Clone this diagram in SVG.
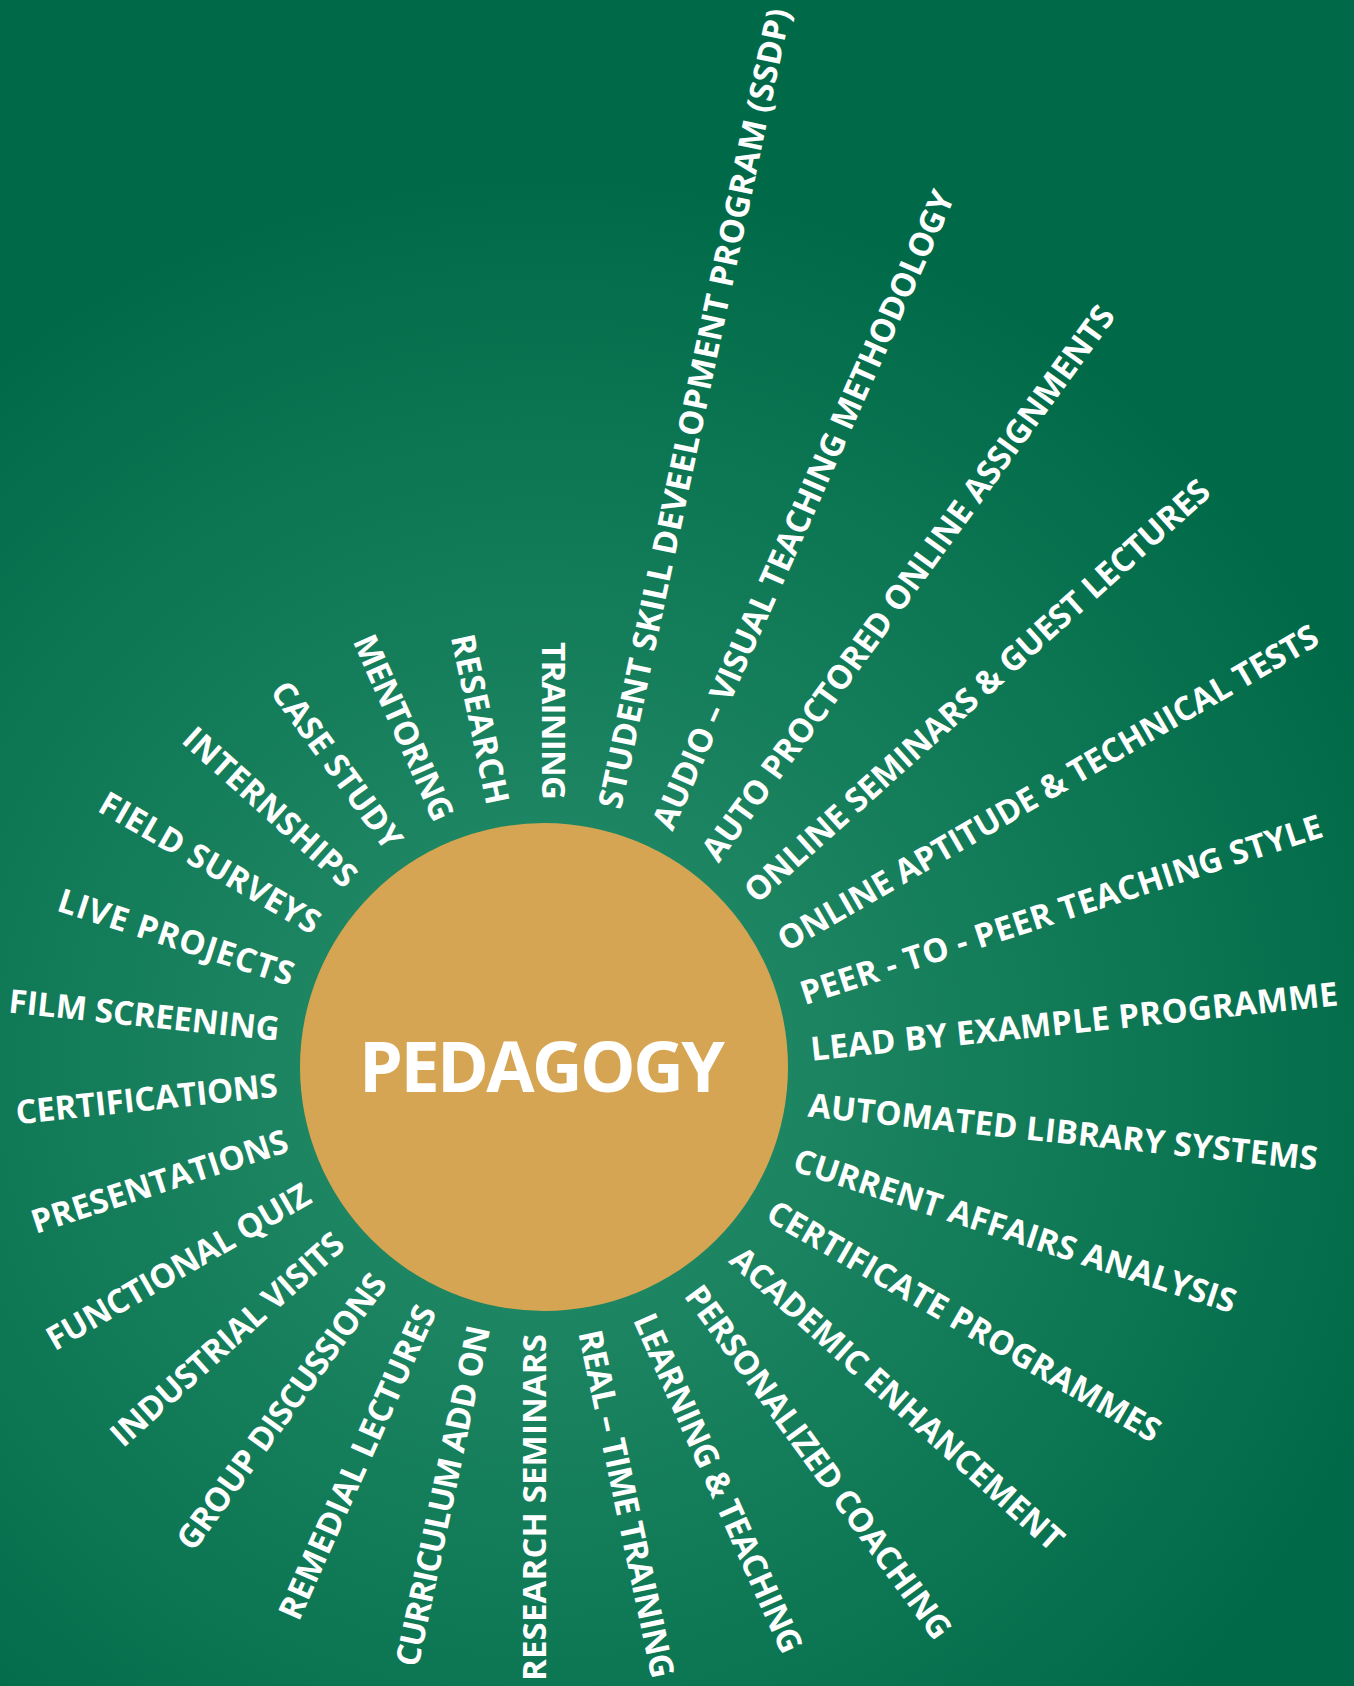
<svg xmlns="http://www.w3.org/2000/svg" width="1354" height="1686" viewBox="0 0 1354 1686">
<defs>
<radialGradient id="bg" cx="544" cy="1067" r="900" gradientUnits="userSpaceOnUse">
<stop offset="0" stop-color="#25906c"/>
<stop offset="0.3" stop-color="#1c8460"/>
<stop offset="1" stop-color="#006a48"/>
</radialGradient>
<style>
.lbl{font-family:"Open Sans","Liberation Sans",sans-serif;font-weight:700;font-size:33px;fill:#ffffff;}
.title{font-family:"Open Sans","Liberation Sans",sans-serif;font-weight:700;font-size:70px;fill:#ffffff;}
</style>
</defs>
<rect width="1354" height="1686" fill="url(#bg)"/>
<g id="center-node">
<circle cx="544" cy="1067" r="244" fill="#d6a553"/>
<text class="title" x="542" y="1092" text-anchor="middle" textLength="366">PEDAGOGY</text>
</g>
<g id="labels" transform="translate(544 1067)">
<g id="n0"><text class="lbl" transform="rotate(-90) translate(267 10) rotate(180)" dy="0.357em" text-anchor="end" textLength="158">TRAINING</text></g>
<g id="n1"><text class="lbl" transform="rotate(-78) translate(267 10)" dy="0.357em" textLength="817">STUDENT SKILL DEVEELOPMENT PROGRAM (SSDP)</text></g>
<g id="n2"><text class="lbl" transform="rotate(-66) translate(267 10)" dy="0.357em" textLength="695">AUDIO – VISUAL TEACHING METHODOLOGY</text></g>
<g id="n3"><text class="lbl" transform="rotate(-54) translate(267 10)" dy="0.357em" textLength="677">AUTO PROCTORED ONLINE ASSIGNMENTS</text></g>
<g id="n4"><text class="lbl" transform="rotate(-42) translate(267 10)" dy="0.357em" textLength="613">ONLINE SEMINARS &amp; GUEST LECTURES</text></g>
<g id="n5"><text class="lbl" transform="rotate(-30) translate(267 10)" dy="0.357em" textLength="618">ONLINE APTITUDE &amp; TECHNICAL TESTS</text></g>
<g id="n6"><text class="lbl" transform="rotate(-18) translate(267 10)" dy="0.357em" textLength="547">PEER - TO - PEER TEACHING STYLE</text></g>
<g id="n7"><text class="lbl" transform="rotate(-6) translate(267 10)" dy="0.357em" textLength="530">LEAD BY EXAMPLE PROGRAMME</text></g>
<g id="n8"><text class="lbl" transform="rotate(6) translate(267 10)" dy="0.357em" textLength="512">AUTOMATED LIBRARY SYSTEMS</text></g>
<g id="n9"><text class="lbl" transform="rotate(18) translate(267 10)" dy="0.357em" textLength="463">CURRENT AFFAIRS ANALYSIS</text></g>
<g id="n10"><text class="lbl" transform="rotate(30) translate(267 10)" dy="0.357em" textLength="448">CERTIFICATE PROGRAMMES</text></g>
<g id="n11"><text class="lbl" transform="rotate(42) translate(267 10)" dy="0.357em" textLength="435">ACADEMIC ENHANCEMENT</text></g>
<g id="n12"><text class="lbl" transform="rotate(54) translate(267 10)" dy="0.357em" textLength="428">PERSONALIZED COACHING</text></g>
<g id="n13"><text class="lbl" transform="rotate(66) translate(267 10)" dy="0.357em" textLength="368">LEARNING &amp; TEACHING</text></g>
<g id="n14"><text class="lbl" transform="rotate(78) translate(267 10)" dy="0.357em" textLength="355">REAL – TIME TRAINING</text></g>
<g id="n15"><text class="lbl" transform="rotate(90) translate(267 10) rotate(180)" dy="0.357em" text-anchor="end" textLength="347">RESEARCH SEMINARS</text></g>
<g id="n16"><text class="lbl" transform="rotate(102) translate(267 10) rotate(180)" dy="0.357em" text-anchor="end" textLength="347">CURRICULUM ADD ON</text></g>
<g id="n17"><text class="lbl" transform="rotate(114) translate(267 10) rotate(180)" dy="0.357em" text-anchor="end" textLength="340">REMEDIAL LECTURES</text></g>
<g id="n18"><text class="lbl" transform="rotate(126) translate(267 10) rotate(180)" dy="0.357em" text-anchor="end" textLength="332">GROUP DISCUSSIONS</text></g>
<g id="n19"><text class="lbl" transform="rotate(138) translate(267 10) rotate(180)" dy="0.357em" text-anchor="end" textLength="301">INDUSTRIAL VISITS</text></g>
<g id="n20"><text class="lbl" transform="rotate(150) translate(267 10) rotate(180)" dy="0.357em" text-anchor="end" textLength="299">FUNCTIONAL QUIZ</text></g>
<g id="n21"><text class="lbl" transform="rotate(162) translate(267 10) rotate(180)" dy="0.357em" text-anchor="end" textLength="268">PRESENTATIONS</text></g>
<g id="n22"><text class="lbl" transform="rotate(174) translate(267 10) rotate(180)" dy="0.357em" text-anchor="end" textLength="263">CERTIFICATIONS</text></g>
<g id="n23"><text class="lbl" transform="rotate(186) translate(267 10) rotate(180)" dy="0.357em" text-anchor="end" textLength="272">FILM SCREENING</text></g>
<g id="n24"><text class="lbl" transform="rotate(198) translate(267 10) rotate(180)" dy="0.357em" text-anchor="end" textLength="246">LIVE PROJECTS</text></g>
<g id="n25"><text class="lbl" transform="rotate(210) translate(267 10) rotate(180)" dy="0.357em" text-anchor="end" textLength="249">FIELD SURVEYS</text></g>
<g id="n26"><text class="lbl" transform="rotate(222) translate(267 10) rotate(180)" dy="0.357em" text-anchor="end" textLength="221">INTERNSHIPS</text></g>
<g id="n27"><text class="lbl" transform="rotate(234) translate(267 10) rotate(180)" dy="0.357em" text-anchor="end" textLength="198">CASE STUDY</text></g>
<g id="n28"><text class="lbl" transform="rotate(246) translate(267 10) rotate(180)" dy="0.357em" text-anchor="end" textLength="200">MENTORING</text></g>
<g id="n29"><text class="lbl" transform="rotate(258) translate(267 10) rotate(180)" dy="0.357em" text-anchor="end" textLength="173">RESEARCH</text></g>
</g>
</svg>
